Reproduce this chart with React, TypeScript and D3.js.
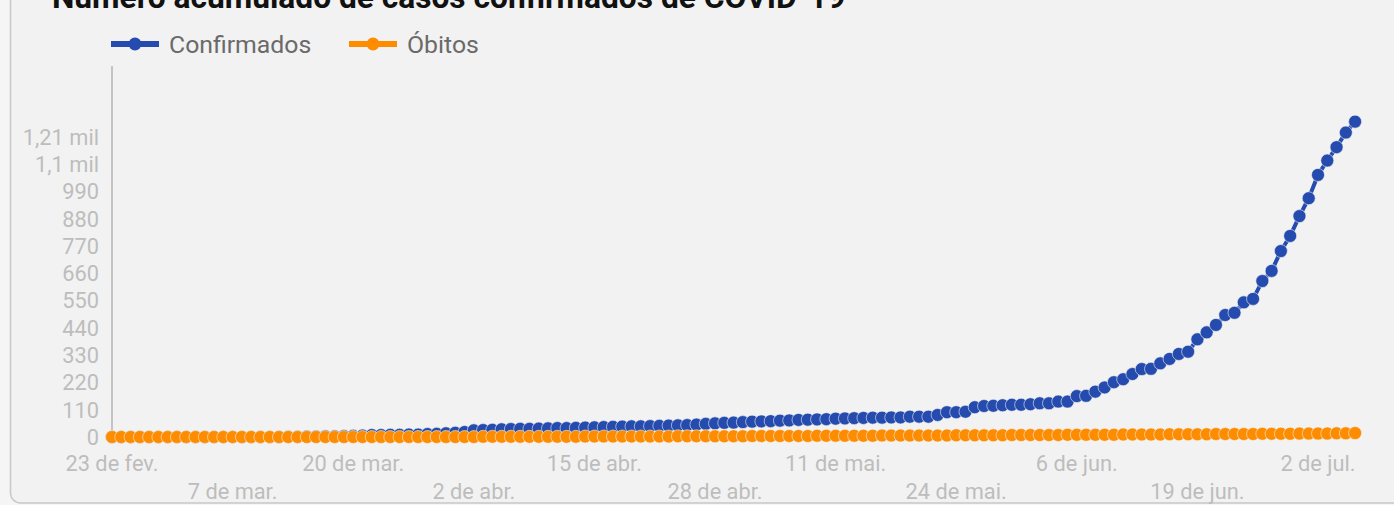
import { useRef, useEffect } from "react";
import * as d3 from "d3";

// dia 0 = 23/02/2020, um ponto por dia
const startDate = new Date(2020, 1, 23);
const endDate = new Date(2020, 6, 6);

const confirmados = [
  0, 0, 0, 0, 0, 0, 0, 0, 0, 0,
  0, 0, 0, 0, 0, 0, 0, 0, 0, 1,
  1, 2, 2, 3, 3, 4, 5, 6, 8, 8,
  9, 9, 10, 10, 12, 13, 15, 17, 20, 27,
  28, 29, 31, 32, 33, 33, 34, 35, 36, 36,
  37, 38, 39, 40, 41, 42, 43, 43, 44, 45,
  46, 47, 48, 50, 53, 55, 57, 58, 60, 62,
  63, 64, 66, 67, 69, 70, 71, 72, 74, 75,
  76, 77, 78, 78, 79, 79, 82, 82, 82, 89,
  100, 100, 102, 120, 125, 126, 128, 130, 130, 132,
  136, 136, 143, 143, 165, 166, 183, 200, 221, 233,
  254, 274, 275, 297, 315, 335, 344, 394, 422, 452,
  492, 501, 543, 557, 629, 670, 750, 811, 891, 963,
  1057, 1115, 1169, 1228, 1272,
];

const obitos = [
  0, 0, 0, 0, 0, 0, 0, 0, 0, 0,
  0, 0, 0, 0, 0, 0, 0, 0, 0, 0,
  0, 0, 0, 0, 0, 0, 0, 0, 0, 0,
  0, 0, 0, 0, 0, 0, 0, 0, 0, 0,
  1, 1, 1, 1, 1, 1, 1, 1, 1, 1,
  1, 2, 2, 2, 2, 2, 2, 2, 2, 2,
  2, 3, 3, 3, 3, 3, 3, 3, 3, 4,
  4, 4, 4, 4, 4, 4, 5, 5, 5, 5,
  5, 5, 5, 6, 6, 6, 6, 6, 6, 6,
  6, 7, 7, 7, 7, 7, 7, 8, 8, 8,
  8, 8, 8, 9, 9, 9, 9, 9, 9, 10,
  10, 10, 10, 10, 11, 11, 11, 11, 11, 12,
  12, 12, 12, 12, 13, 13, 13, 13, 14, 14,
  14, 14, 15, 15, 16,
];

const yTicks = [0, 110, 220, 330, 440, 550, 660, 770, 880, 990, 1100, 1210];
const yTickLabels = ["0", "110", "220", "330", "440", "550", "660", "770", "880", "990", "1,1 mil", "1,21 mil"];

const xTickLabels = [
  "23 de fev.", "7 de mar.", "20 de mar.", "2 de abr.", "15 de abr.", "28 de abr.",
  "11 de mai.", "24 de mai.", "6 de jun.", "19 de jun.", "2 de jul.",
];

const series = [
  { name: "Confirmados", values: confirmados, color: "#244bad" },
  { name: "Óbitos", values: obitos, color: "#fe8c00" },
];

const W = 1394;
const H = 505;
const FONT = "Roboto, sans-serif";

const App = () => {
  const ref = useRef<SVGSVGElement>(null);

  useEffect(() => {
    const svg = d3.select(ref.current);
    svg.selectAll("*").remove();

    const days = d3.timeDay.range(startDate, d3.timeDay.offset(endDate, 1));

    const x = d3
      .scaleTime()
      .domain([startDate, d3.timeDay.offset(startDate, 130)])
      .range([112, 1318]);
    const y = d3.scaleLinear().domain([0, 1210]).range([437, 137]);

    // fundo + cartão
    svg.append("rect").attr("width", W).attr("height", H).attr("fill", "#f5f5f5");
    svg
      .append("rect")
      .attr("x", 10.5)
      .attr("y", -30)
      .attr("width", 1500)
      .attr("height", 533)
      .attr("rx", 10)
      .attr("fill", "#f2f2f2")
      .attr("stroke", "#c8c8c8")
      .attr("stroke-width", 1.5);

    // título (cortado no topo)
    svg
      .append("text")
      .attr("x", 52)
      .attr("y", 7.5)
      .attr("font-family", FONT)
      .attr("font-weight", "bold")
      .attr("font-size", 31.7)
      .attr("fill", "#111")
      .text("Número acumulado de casos confirmados de COVID-19");

    // legenda
    const legendX = [111, 349];
    series.forEach((s, i) => {
      const g = svg.append("g").attr("transform", `translate(${legendX[i]},44)`);
      g.append("line")
        .attr("x1", 0)
        .attr("x2", 48)
        .attr("stroke", s.color)
        .attr("stroke-width", 6);
      g.append("circle").attr("cx", 24).attr("r", 6.5).attr("fill", s.color);
      g.append("text")
        .attr("x", 58)
        .attr("y", 8.5)
        .attr("font-family", FONT)
        .attr("font-size", 24.8)
        .attr("fill", "#6a6a6a")
        .text(s.name);
    });

    // eixo y
    svg
      .append("line")
      .attr("x1", x(startDate))
      .attr("x2", x(startDate))
      .attr("y1", 66)
      .attr("y2", 437)
      .attr("stroke", "#b4b4b4")
      .attr("stroke-width", 1.5);

    svg
      .append("g")
      .selectAll("text")
      .data(yTicks)
      .join("text")
      .attr("x", 99)
      .attr("y", (d) => y(d))
      .attr("dy", "0.36em")
      .attr("text-anchor", "end")
      .attr("font-family", FONT)
      .attr("font-size", 21.8)
      .attr("fill", "#bdbdbd")
      .text((d, i) => yTickLabels[i]);

    // eixo x: a cada 13 dias, alternando duas linhas
    svg
      .append("g")
      .selectAll("text")
      .data(xTickLabels)
      .join("text")
      .attr("x", (d, i) => x(d3.timeDay.offset(startDate, i * 13)))
      .attr("y", (d, i) => (i % 2 === 0 ? 471 : 499))
      .attr("text-anchor", "middle")
      .attr("font-family", FONT)
      .attr("font-size", 21.8)
      .attr("fill", "#bdbdbd")
      .text((d) => d);

    const line = d3
      .line<number>()
      .x((d, i) => x(days[i]))
      .y((d) => y(d));

    series.forEach((s) => {
      const g = svg.append("g");
      g.append("path")
        .attr("d", line(s.values))
        .attr("fill", "none")
        .attr("stroke", s.color)
        .attr("stroke-width", 4)
        .attr("stroke-linejoin", "round");
      g.selectAll("circle")
        .data(s.values)
        .join("circle")
        .attr("cx", (d, i) => x(days[i]))
        .attr("cy", (d) => y(d))
        .attr("r", 6.5)
        .attr("fill", s.color)
        .attr("stroke", "#f2f2f2")
        .attr("stroke-width", 0.6);
    });
  }, []);

  return (
    <svg
      ref={ref}
      width={W}
      height={H}
      style={{ position: "absolute", left: 0, top: 0, display: "block" }}
    />
  );
};

export default App;
